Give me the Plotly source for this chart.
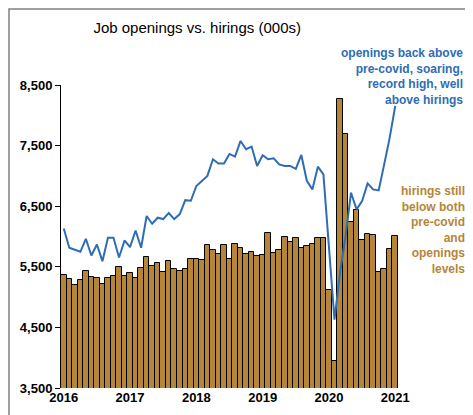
import pandas as pd
import plotly.graph_objects as go

months = pd.date_range("2016-01-01", periods=61, freq="MS").strftime("%Y-%m").tolist()

hirings = [5363, 5297, 5197, 5280, 5426, 5335, 5312, 5213, 5318, 5341, 5495, 5346,
           5390, 5312, 5478, 5665, 5511, 5571, 5411, 5604, 5467, 5429, 5460, 5637,
           5637, 5617, 5864, 5781, 5709, 5858, 5621, 5875, 5814, 5715, 5743, 5671,
           5687, 6050, 5726, 5776, 5990, 5908, 5974, 5803, 5847, 5880, 5979, 5979,
           5125, 3941, 8277, 7698, 6238, 6430, 5935, 6034, 6024, 5417, 5460, 5797,
           6013]

openings = [6133, 5814, 5781, 5748, 5962, 5687, 5869, 5593, 5979, 5979, 5654, 5935,
            5825, 6100, 5814, 6338, 6210, 6310, 6288, 6388, 6288, 6370, 6600, 6590,
            6833, 6915, 7000, 7274, 7203, 7203, 7362, 7318, 7577, 7440, 7484, 7164,
            7340, 7274, 7290, 7190, 7164, 7164, 7115, 7345, 6920, 6777, 7153, 7026,
            5850, 4629, 5400, 6000, 6723, 6447, 6585, 6876, 6777, 6760, 7190, 7632,
            8155]

year_ticks = ["2016-01", "2017-01", "2018-01", "2019-01", "2020-01", "2021-01"]
year_labels = ["2016", "2017", "2018", "2019", "2020", "2021"]
y_ticks = [3500, 4500, 5500, 6500, 7500, 8500]

BLUE = "#2E6DB4"
GOLD = "#B5853A"

fig = go.Figure()
fig.add_trace(go.Bar(x=months, y=hirings, marker=dict(color=GOLD, line=dict(color="black", width=1)),
                     name="hirings"))
fig.add_trace(go.Scatter(x=months, y=openings, mode="lines", line=dict(color=BLUE, width=2),
                         name="openings"))

fig.update_layout(
    width=473, height=415,
    margin=dict(l=53, r=83, t=77, b=35),
    paper_bgcolor="white", plot_bgcolor="white",
    showlegend=False, bargap=0.0,
    font=dict(family="Liberation Sans, Arial", size=13, color="black"),
    title=dict(text="Job openings vs. hirings (000s)", x=0.4, xanchor="center", y=0.965,
               font=dict(size=15, color="black")),
)
fig.update_xaxes(type="category", tickvals=year_ticks, ticktext=year_labels,
                 tickfont=dict(size=13, family="Liberation Sans", weight="bold"),
                 showline=False, ticks="", showgrid=False)
fig.update_yaxes(range=[3500, 8500], tickvals=y_ticks, tickformat=",", showgrid=False,
                 showline=True, linecolor="black", linewidth=1, ticks="outside",
                 ticklen=5, tickcolor="black",
                 tickfont=dict(size=13, family="Liberation Sans", weight="bold"))

fig.add_annotation(xref="paper", yref="paper", x=1.2, y=1.135, xanchor="right", yanchor="top",
                   showarrow=False, align="right",
                   text="openings back above<br>pre-covid, soaring,<br>record high, well<br>above hirings",
                   font=dict(size=12, color=BLUE, family="Liberation Sans", weight="bold"))
fig.add_annotation(xref="paper", yref="paper", x=1.205, y=0.68, xanchor="right", yanchor="top",
                   showarrow=False, align="right",
                   text="hirings still<br>below both<br>pre-covid<br>and<br>openings<br>levels",
                   font=dict(size=12, color=GOLD, family="Liberation Sans", weight="bold"))
# grey frame round the whole chart
fig.add_shape(type="rect", xref="paper", yref="paper",
              x0=-52 / 337, x1=(473 - 53 - 3) / 337, y0=-33 / 303, y1=(380 - 1) / 303,
              line=dict(color="#808080", width=1.5))

fig.write_html("out.html")
